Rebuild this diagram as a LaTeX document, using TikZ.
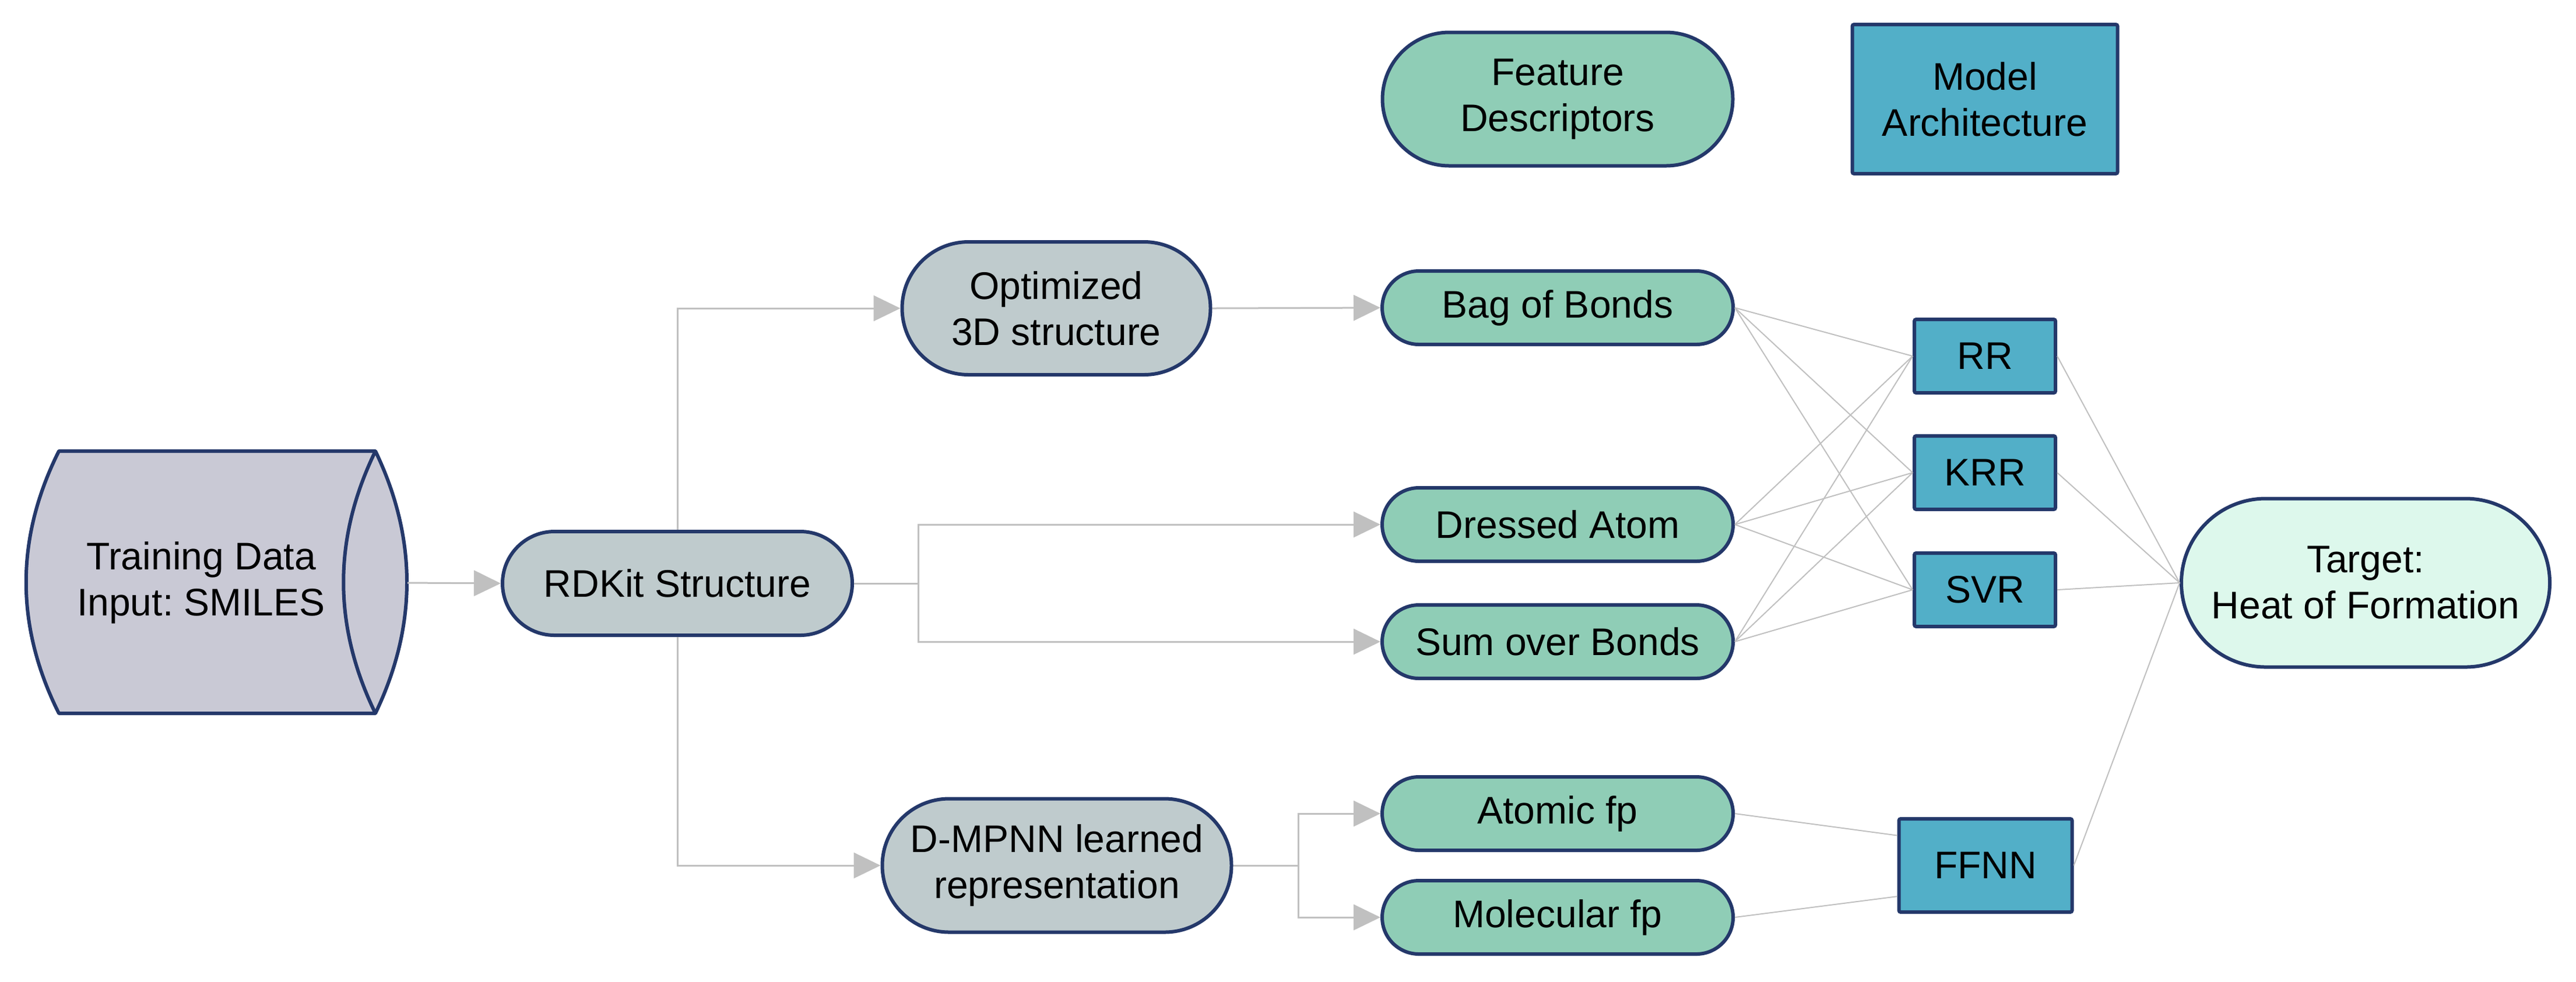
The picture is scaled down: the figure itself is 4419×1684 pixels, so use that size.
\documentclass[tikz,border=0pt]{standalone}
\usepackage{fontspec}
\setmainfont{Liberation Sans}
\usetikzlibrary{shapes.misc,arrows.meta,calc}
\definecolor{navy}{RGB}{36,56,106}
\definecolor{cylfill}{RGB}{201,201,213}
\definecolor{nodegray}{RGB}{191,203,205}
\definecolor{featgreen}{RGB}{143,205,182}
\definecolor{modelblue}{RGB}{82,175,200}
\definecolor{targetfill}{RGB}{221,248,236}
\definecolor{conngray}{RGB}{192,192,192}
\frenchspacing
\begin{document}
\begin{tikzpicture}[x=0.2pt,y=-0.2pt,
  font=\fontsize{13.2}{15.8}\selectfont,
  base/.style={draw=navy, line width=1.2pt, align=center, inner sep=0pt, text=black},
  term/.style={base, rounded rectangle},
  gnode/.style={term, fill=nodegray},
  feat/.style={term, fill=featgreen, minimum width=120.4pt, minimum height=25.2pt},
  model/.style={base, rectangle, fill=modelblue, rounded corners=0.6pt},
  conn/.style={draw=conngray, line width=0.6pt},
  arr/.style={conn, -{Triangle[length=9.2pt,width=8.8pt]}},
  xline/.style={draw=conngray, line width=0.4pt}]
\fill[white] (0,0) rectangle (4419,1684);
\useasboundingbox (0,0) rectangle (4419,1684);

% cylinder (training data)
\filldraw[fill=cylfill, draw=navy, line width=1.2pt, line join=round]
  (101,774) -- (644,774) .. controls (716,924) and (716,1074) .. (644,1224)
  -- (101,1224) .. controls (26,1074) and (26,924) .. (101,774) -- cycle;
\draw[navy, line width=1.2pt] (644,774) .. controls (571,924) and (571,1074) .. (644,1224);
\node[inner sep=0pt, minimum width=130.4pt, minimum height=90pt] (train) at (372,1000) {};
\node[align=center, inner sep=0pt] (trainlabel) at (345,1000) {Training Data\\Input: SMILES};

% process nodes
\node[gnode, minimum width=120pt, minimum height=35.6pt] (rdkit) at (1162,1001) {RDKit Structure};
\node[gnode, minimum width=105.8pt, minimum height=45.6pt] (opt) at (1812,529) {Optimized\\3D structure};
\node[gnode, minimum width=119.8pt, minimum height=45.8pt] (dmpnn) at (1813,1485) {D-MPNN learned\\representation};

% feature nodes
\node[feat] (bob) at (2672,528) {Bag of Bonds};
\node[feat] (dressed) at (2672,900) {Dressed Atom};
\node[feat] (sum) at (2672,1101) {Sum over Bonds};
\node[feat] (atomic) at (2672,1396) {Atomic fp};
\node[feat] (molec) at (2672,1574) {Molecular fp};

% legend
\node[term, fill=featgreen, minimum width=120.2pt, minimum height=45.8pt] (featdesc) at (2672,170) {Feature\\Descriptors};
\node[model, minimum width=91pt, minimum height=51.2pt] (modelarch) at (3405,170) {Model\\Architecture};

% models
\node[model, minimum width=48.4pt, minimum height=25.2pt] (rr) at (3405,611) {RR};
\node[model, minimum width=48.4pt, minimum height=25.2pt] (krr) at (3405,811) {KRR};
\node[model, minimum width=48.4pt, minimum height=25.2pt] (svr) at (3405,1012) {SVR};
\node[model, minimum width=59.4pt, minimum height=32pt] (ffnn) at (3406,1485) {FFNN};

% target
\node[term, fill=targetfill, minimum width=126.4pt, minimum height=57.8pt] (target) at (4058,1000) {Target:\\Heat of Formation};

% connectors with arrows
\draw[arr] (train.east) -- (rdkit.west);
\draw[arr] (rdkit.north) |- (opt.west);
\draw[arr] (rdkit.south) |- (dmpnn.west);
\draw[arr] (opt.east) -- (bob.west);
\coordinate (bra) at (1575,1001);
\draw[conn] (rdkit.east) -- (bra);
\draw[arr] (bra) |- (dressed.west);
\draw[arr] (bra) |- (sum.west);
\coordinate (brb) at (2227,1485);
\draw[conn] (dmpnn.east) -- (brb);
\draw[arr] (brb) |- (atomic.west);
\draw[arr] (brb) |- (molec.west);

% feature -> model
\foreach \f in {bob,dressed,sum}{
  \foreach \m in {rr,krr,svr}{
    \draw[xline] (\f.east) -- (\m.west);
  }
}
\draw[xline] (atomic.east) -- ($(ffnn.north west)!0.19!(ffnn.south west)$);
\draw[xline] (molec.east) -- ($(ffnn.north west)!0.82!(ffnn.south west)$);

% model -> target
\foreach \m in {rr,krr,svr,ffnn}{
  \draw[xline] (\m.east) -- (target.west);
}
\end{tikzpicture}
\end{document}
